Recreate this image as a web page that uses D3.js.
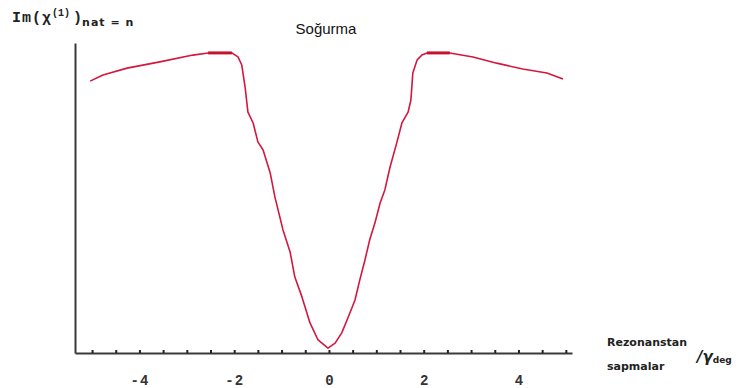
<!DOCTYPE html>
<html>
<head>
<meta charset="utf-8">
<script src="https://cdn.jsdelivr.net/npm/d3@7"></script>
<style>
  html, body { margin: 0; padding: 0; background: #ffffff; }
  svg { display: block; }
</style>
</head>
<body>
<svg id="chart" width="749" height="388"></svg>
<script>
// Detuning from resonance (in units of the Doppler width)
const detuning = [
  -5.04, -4.77, -4.26, -3.57, -2.87, -2.55, -2.05, -1.92, -1.84, -1.77,
  -1.71, -1.60, -1.50, -1.39, -1.24, -1.14, -0.97, -0.82, -0.72, -0.57,
  -0.40, -0.23, -0.02, 0.13, 0.27, 0.40, 0.55, 0.65, 0.76, 0.86,
  0.97, 1.08, 1.18, 1.29, 1.43, 1.54, 1.67, 1.73, 1.77, 1.86,
  1.96, 2.07, 2.55, 3.04, 3.54, 4.09, 4.60, 4.94
];
// Imaginary part of the susceptibility (absorption), arbitrary units
const absorption = [
  0.877, 0.897, 0.919, 0.939, 0.961, 0.968, 0.968, 0.955, 0.929, 0.858,
  0.777, 0.742, 0.681, 0.655, 0.581, 0.503, 0.397, 0.326, 0.245, 0.181,
  0.097, 0.042, 0.016, 0.032, 0.065, 0.113, 0.171, 0.235, 0.300, 0.365,
  0.419, 0.484, 0.526, 0.600, 0.677, 0.742, 0.777, 0.816, 0.903, 0.945,
  0.961, 0.968, 0.968, 0.955, 0.935, 0.916, 0.903, 0.884
];
// Flat tops of the profile, drawn with a heavier stroke
const plateaus = [[-2.55, -2.05], [2.07, 2.55]];

const majorTicks = [-4, -2, 0, 2, 4];
const minorTicks = d3.range(-5, 5.01, 0.5);

const svg = d3.select("#chart");

const x = d3.scaleLinear().domain([-5.36, 5.13]).range([75, 572]);
const y = d3.scaleLinear().domain([0, 1]).range([353, 43]);

const axisColor = "#3a3a3a";
const curveColor = "#d3173f";

// Y axis: plain line, no ticks
svg.append("g")
  .attr("transform", `translate(${x.range()[0]},0)`)
  .call(d3.axisLeft(y).tickValues([]).tickSizeOuter(0))
  .call(g => g.select(".domain").attr("stroke", axisColor).attr("stroke-width", 2));

// X axis: small upward ticks every 0.5
svg.append("g")
  .attr("transform", `translate(0,${y(0)})`)
  .call(d3.axisTop(x).tickValues(minorTicks).tickSize(3).tickSizeOuter(0).tickFormat(""))
  .call(g => g.select(".domain").attr("stroke", axisColor).attr("stroke-width", 2))
  .call(g => g.selectAll(".tick line").attr("stroke", "#222").attr("stroke-width", 2));

// X axis labels
svg.append("g")
  .attr("transform", `translate(0,${y(0)})`)
  .call(d3.axisBottom(x).tickValues(majorTicks).tickSize(0).tickPadding(22)
        .tickFormat(d => d < 0 ? "-" + Math.abs(d) : String(d)))
  .call(g => g.select(".domain").remove())
  .call(g => g.selectAll(".tick text")
    .attr("fill", "#333")
    .attr("font-family", "'Liberation Mono', 'DejaVu Sans Mono', monospace")
    .attr("font-weight", "bold")
    .attr("font-size", 14)
    .attr("letter-spacing", d => d < 0 ? 1 : 0));

// Absorption profile
const pts = detuning.map((d, i) => [d, absorption[i]]);
const line = d3.line().x(d => x(d[0])).y(d => y(d[1]));

svg.append("path")
  .datum(pts)
  .attr("fill", "none")
  .attr("stroke", curveColor)
  .attr("stroke-width", 1.6)
  .attr("stroke-linejoin", "round")
  .attr("d", line);

plateaus.forEach(([a, b]) => {
  svg.append("path")
    .datum(pts.filter(p => p[0] >= a && p[0] <= b))
    .attr("fill", "none")
    .attr("stroke", "#c8102e")
    .attr("stroke-width", 3)
    .attr("d", line);
});

// Title
svg.append("text")
  .attr("x", 326).attr("y", 34)
  .attr("text-anchor", "middle")
  .attr("font-family", "'Liberation Sans', Arial, sans-serif")
  .attr("font-size", 15)
  .attr("fill", "#111")
  .text("Soğurma");

// Y axis label: Im(χ(1)) nat = n
const yl = svg.append("text")
  .attr("x", 12).attr("y", 22)
  .attr("font-family", "'Liberation Mono', 'DejaVu Sans Mono', monospace")
  .attr("font-weight", "bold")
  .attr("fill", "#222");
yl.append("tspan").attr("font-size", 15).attr("letter-spacing", 1).text("Im(χ");
yl.append("tspan").attr("font-size", 10).attr("dy", -6).text("(1)");
yl.append("tspan").attr("font-size", 15).attr("dy", 6).attr("dx", 3).text(")");
yl.append("tspan").attr("font-size", 11).attr("dy", 4).attr("letter-spacing", 1)
  .attr("font-family", "'DejaVu Sans', sans-serif").text("nat = n");

// X axis label
const xl = svg.append("g")
  .attr("font-family", "'DejaVu Sans', sans-serif")
  .attr("font-weight", "bold")
  .attr("font-size", 11)
  .attr("fill", "#222");
xl.append("text").attr("x", 607).attr("y", 346).text("Rezonanstan");
xl.append("text").attr("x", 607).attr("y", 370).text("sapmalar");
const unit = xl.append("text").attr("x", 697).attr("y", 362);
unit.append("tspan").attr("font-size", 15).attr("font-style", "italic").text("/γ");
unit.append("tspan").attr("font-size", 9).attr("dy", 1).text("deg");
</script>
</body>
</html>
